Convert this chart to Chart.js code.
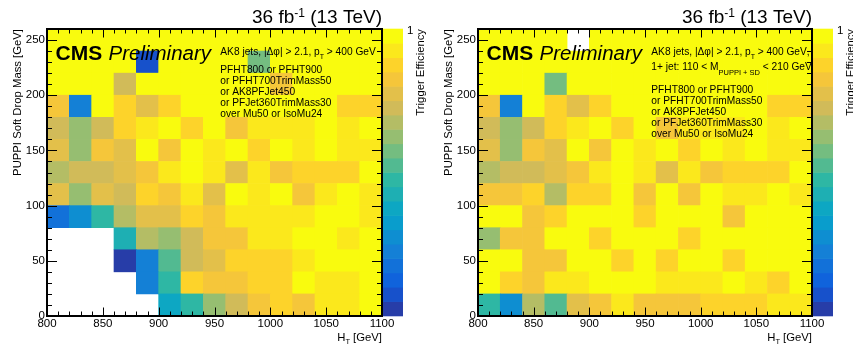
<!DOCTYPE html>
<html>
<head>
<meta charset="utf-8">
<script src="https://cdn.jsdelivr.net/npm/chart.js@4.4.1/dist/chart.umd.min.js"></script>
<style>
  body { margin: 0; background: #fff; }
  #wrap { position: relative; width: 853px; height: 345px; overflow: hidden; background: #fff; }
  canvas { position: absolute; top: 0; }
</style>
</head>
<body>
<div id="wrap">
  <canvas id="inclusive" width="426" height="345" style="left:0px"></canvas>
  <canvas id="masstag" width="422" height="345" style="left:431px"></canvas>
</div>
<script>
// bin edges (GeV)
const HT_EDGES = [800, 820, 840, 860, 880, 900, 920, 940, 960, 980, 1000, 1020, 1040, 1060, 1080, 1100];
const MASS_EDGES = [0, 20, 40, 60, 80, 100, 120, 140, 160, 180, 200, 220, 240, 260];
const HT_TICKS = [800, 850, 900, 950, 1000, 1050, 1100];
const MASS_TICKS = [0, 50, 100, 150, 200, 250];
const Z_MIN = 0.8;
const Z_MAX = 1;

// trigger efficiency, rows from the top mass bin (240-260) down to 0-20
const effInclusive = [
  [1, 1, 1, 1, 1, 1, 1, 1, 1, 1, 1, 1, 1, 1, 1],
  [1, 1, 1, 1, .81, 1, 1, 1, 1, .91, 1, 1, 1, 1, 1],
  [1, 1, 1, .94, 1, 1, 1, 1, 1, 1, .96, 1, 1, 1, 1],
  [.96, .84, 1, .97, .95, .97, 1, 1, 1, 1, 1, 1, 1, .97, .97],
  [.94, .92, .94, .97, .98, 1, .97, 1, .96, .98, .98, .98, 1, .98, 1],
  [.95, .92, .96, .95, 1, .96, 1, .98, 1, .97, 1, .98, 1, .98, .98],
  [.93, .94, .94, .95, .96, .98, 1, .98, .95, .98, .96, .97, .97, .97, 1],
  [.95, .92, .95, .94, .97, .96, .98, .95, 1, .98, 1, .96, .98, 1, .98],
  [.83, .85, .89, .93, .95, .95, .97, .96, .98, .98, .98, .98, 1, 1, .98],
  [null, null, null, .88, .93, .92, .94, .96, .96, .98, .98, 1, 1, .98, 1],
  [null, null, null, .80, .84, .90, .94, .95, .97, .97, .97, .98, 1, 1, 1],
  [null, null, null, null, .84, .89, .97, .96, .96, .97, .97, 1, .98, .98, 1],
  [null, null, null, null, null, .87, .89, .92, .94, .96, .97, .96, .98, .98, 1]
];

const effMassTag = [
  [1, 1, 1, 1, null, 1, 1, 1, 1, 1, 1, 1, 1, 1, 1],
  [1, 1, 1, 1, 1, 1, 1, 1, 1, 1, 1, 1, 1, 1, 1],
  [1, 1, 1, .91, 1, 1, 1, 1, 1, 1, 1, 1, 1, 1, 1],
  [.96, .84, 1, .97, .95, .97, 1, 1, 1, 1, 1, 1, 1, .97, .97],
  [.94, .92, .94, .97, .98, 1, .97, 1, .96, .98, .98, .98, 1, .98, 1],
  [.95, .92, .96, .95, 1, .96, 1, .98, 1, .97, 1, .98, 1, .98, .98],
  [.93, .94, .94, .95, .96, .98, 1, .98, .95, .98, .96, .97, .97, .97, 1],
  [.96, .96, .97, .93, .97, .97, 1, .96, 1, .96, 1, .98, .98, 1, .98],
  [1, 1, .96, .97, 1, 1, 1, .97, 1, 1, 1, .96, 1, 1, 1],
  [.92, .96, .96, 1, 1, .97, 1, 1, 1, .97, 1, 1, 1, 1, 1],
  [1, 1, .96, .96, 1, 1, .97, 1, .97, 1, 1, .97, 1, 1, 1],
  [1, .97, .96, .98, .98, 1, 1, 1, .98, .98, .98, 1, .98, .97, 1],
  [.89, .85, .93, .90, .95, .96, .98, .96, .96, .96, .97, .97, .97, .98, .98]
];

const TRIGGERS = ['PFHT800 or PFHT900', 'or PFHT700TrimMass50', 'or AK8PFJet450',
                  'or PFJet360TrimMass30', 'over Mu50 or IsoMu24'];

const FAMILY = '"Liberation Sans", Arial, Helvetica, sans-serif';
Chart.defaults.font.family = FAMILY;
Chart.defaults.color = '#000';

// ROOT kBird palette, 20 contour bands
const N_BANDS = 20;
const BIRD = {
  s: [0, .125, .25, .375, .5, .625, .75, .875, 1],
  r: [.2082, .0592, .0780, .0232, .1802, .5301, .8186, .9956, .9764],
  g: [.1664, .3599, .5041, .6419, .7178, .7492, .7328, .7862, .9832],
  b: [.5293, .8684, .8385, .7914, .6425, .4662, .3499, .1968, .0539]
};
function bird(t) {
  let i = 1;
  while (i < BIRD.s.length - 1 && t > BIRD.s[i]) i++;
  const f = (t - BIRD.s[i - 1]) / (BIRD.s[i] - BIRD.s[i - 1]);
  const c = k => Math.round(255 * (BIRD[k][i - 1] + f * (BIRD[k][i] - BIRD[k][i - 1])));
  return 'rgb(' + c('r') + ',' + c('g') + ',' + c('b') + ')';
}
const BAND_COLORS = [];
for (let b = 0; b < N_BANDS; b++) BAND_COLORS.push(bird(Math.floor((b + 0.99) * 255 / N_BANDS) / 254));

function effColor(v) {
  let b = Math.floor((v - Z_MIN) / (Z_MAX - Z_MIN) * N_BANDS + 1e-6);
  b = Math.max(0, Math.min(N_BANDS - 1, b));
  return BAND_COLORS[b];
}

function font(size, style) { return (style || '') + ' ' + size + 'px ' + FAMILY; }

// draw a list of text pieces [text, size, dy, style] one after another
function rich(ctx, parts, x, y, align) {
  let w = 0;
  parts.forEach(p => { ctx.font = font(p[1], p[3]); w += ctx.measureText(p[0]).width; });
  let cx = align === 'right' ? x - w : x;
  ctx.textAlign = 'left';
  ctx.textBaseline = 'alphabetic';
  parts.forEach(p => {
    ctx.font = font(p[1], p[3]);
    ctx.fillText(p[0], cx, y + (p[2] || 0));
    cx += ctx.measureText(p[0]).width;
  });
}

function rootDecor(notes) {
  return {
    id: 'rootDecor',
    afterDatasetsDraw(chart) {
      const ctx = chart.ctx, a = chart.chartArea;
      const xs = chart.scales.x, ys = chart.scales.y;
      ctx.save();
      ctx.fillStyle = '#000';
      ctx.strokeStyle = '#000';

      // tick marks inside the frame, all four sides
      ctx.lineWidth = 1;
      ctx.beginPath();
      for (let v = HT_EDGES[0]; v <= HT_EDGES[HT_EDGES.length - 1]; v += 10) {
        const px = Math.round(xs.getPixelForValue(v)) + 0.5;
        const len = v % 50 === 0 ? 8.5 : 4.5;
        ctx.moveTo(px, a.bottom); ctx.lineTo(px, a.bottom - len);
        ctx.moveTo(px, a.top); ctx.lineTo(px, a.top + len);
      }
      for (let v = MASS_EDGES[0]; v <= MASS_EDGES[MASS_EDGES.length - 1]; v += 10) {
        const py = Math.round(ys.getPixelForValue(v)) + 0.5;
        const len = v % 50 === 0 ? 10 : 5;
        ctx.moveTo(a.left, py); ctx.lineTo(a.left + len, py);
        ctx.moveTo(a.right, py); ctx.lineTo(a.right - len, py);
      }
      ctx.stroke();
      ctx.lineWidth = 2;
      ctx.strokeRect(a.left, a.top, a.right - a.left, a.bottom - a.top);

      // colour bar
      const h = (a.bottom - a.top) / N_BANDS;
      for (let b = 0; b < N_BANDS; b++) {
        ctx.fillStyle = BAND_COLORS[b];
        ctx.fillRect(a.right + 1, a.bottom - (b + 1) * h - 0.3, 20, h + 0.6);
      }
      ctx.fillStyle = '#000';
      ctx.font = font(11.5);
      ctx.textAlign = 'left';
      ctx.textBaseline = 'middle';
      ctx.fillText(String(Z_MAX), a.right + 25, a.top + 2);

      // axis titles
      ctx.save();
      ctx.translate(a.left - 26.5, a.top);
      ctx.rotate(-Math.PI / 2);
      ctx.textAlign = 'right';
      ctx.textBaseline = 'alphabetic';
      ctx.font = font(11.3);
      ctx.fillText('PUPPI Soft Drop Mass [GeV]', 0, 0);
      ctx.restore();
      ctx.save();
      ctx.translate(a.right + 42, a.top);
      ctx.rotate(-Math.PI / 2);
      ctx.textAlign = 'right';
      ctx.textBaseline = 'alphabetic';
      ctx.font = font(11.3);
      ctx.fillText('Trigger Efficiency', 0, 0);
      ctx.restore();
      rich(ctx, [['H', 11.3], ['T', 7.5, 3], [' [GeV]', 11.3]], a.right, 341, 'right');

      // luminosity label
      rich(ctx, [['36 fb', 19], ['-1', 12, -6], [' (13 TeV)', 19]], a.right, 23, 'right');

      // CMS Preliminary
      rich(ctx, [['CMS', 21, 0, 'bold']], a.left + 8.5, a.top + 30.5);
      rich(ctx, [['Preliminary', 20.5, 0, 'italic']], a.left + 61.5, a.top + 30.5);

      // selection notes
      notes.forEach(n => rich(ctx, n.parts, a.left + 173.3, a.top + n.y));
      ctx.restore();
    }
  };
}

const NOTE = 10.2;
const SELECTION = [['AK8 jets, |\u0394\u03c6| > 2.1, p', NOTE], ['T', 7, 3.5], [' > 400 GeV', NOTE]];

const notesInclusive = [{ y: 26, parts: SELECTION }]
  .concat(TRIGGERS.map((t, i) => ({ y: 43.5 + 11 * i, parts: [[t, NOTE]] })));

const notesMassTag = [
  { y: 26, parts: SELECTION.concat([[',', NOTE]]) },
  { y: 40.5, parts: [['1+ jet: 110 < M', NOTE], ['PUPPI + SD', 7.5, 5.5], [' < 210 GeV', NOTE]] }
].concat(TRIGGERS.map((t, i) => ({ y: 64 + 11 * i, parts: [[t, NOTE]] })));

function heatmap(canvasId, eff, notes, padRight) {
  const cells = [];
  eff.forEach((row, r) => {
    const m = MASS_EDGES.length - 2 - r;
    row.forEach((v, c) => {
      if (v === null) return;
      cells.push({ x: (HT_EDGES[c] + HT_EDGES[c + 1]) / 2, y: [MASS_EDGES[m], MASS_EDGES[m + 1]], v: v });
    });
  });

  new Chart(document.getElementById(canvasId), {
    type: 'bar',
    data: {
      datasets: [{
        data: cells,
        grouped: false,
        barPercentage: 1,
        categoryPercentage: 1,
        borderWidth: 0,
        backgroundColor: ctx => ctx.raw ? effColor(ctx.raw.v) : 'rgba(0,0,0,0)'
      }]
    },
    options: {
      responsive: false,
      animation: false,
      events: [],
      layout: { padding: { top: 29, right: padRight, left: 0, bottom: 0 } },
      plugins: { legend: { display: false }, tooltip: { enabled: false } },
      scales: {
        x: {
          type: 'linear', offset: false,
          min: HT_EDGES[0], max: HT_EDGES[HT_EDGES.length - 1],
          grid: { display: false, drawTicks: false }, border: { display: false },
          afterBuildTicks: s => { s.ticks = HT_TICKS.map(v => ({ value: v })); },
          afterFit: s => { s.height = 29; },
          ticks: { maxRotation: 0, autoSkip: false, padding: 1, font: { size: 11.5 }, callback: v => String(v) }
        },
        y: {
          type: 'linear',
          min: MASS_EDGES[0], max: MASS_EDGES[MASS_EDGES.length - 1],
          grid: { display: false, drawTicks: false }, border: { display: false },
          afterBuildTicks: s => { s.ticks = MASS_TICKS.map(v => ({ value: v })); },
          afterFit: s => { s.width = 47; },
          ticks: { padding: 2, font: { size: 11.5 }, callback: v => String(v) }
        }
      }
    },
    plugins: [rootDecor(notes)]
  });
}

heatmap('inclusive', effInclusive, notesInclusive, 44);
heatmap('masstag', effMassTag, notesMassTag, 41);
</script>
</body>
</html>
